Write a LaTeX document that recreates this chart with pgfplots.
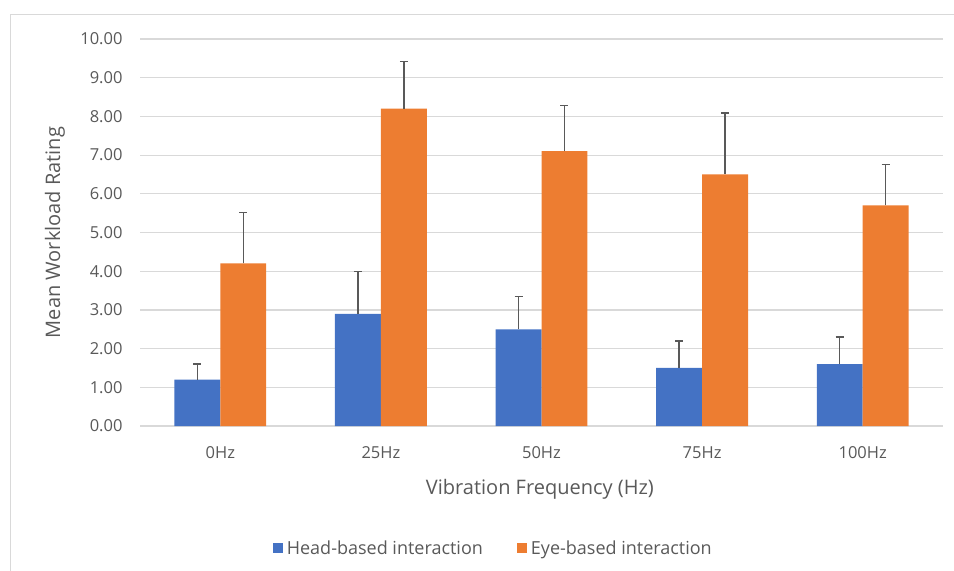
\documentclass[border=0pt]{standalone}
\usepackage{pgfplots}
\pgfplotsset{compat=1.18}
\usepackage{fontspec}
\setmainfont{Open Sans}
\definecolor{headblue}{HTML}{4472C4}
\definecolor{eyeorange}{HTML}{ED7D31}
\definecolor{gridgray}{HTML}{D9D9D9}
\definecolor{txtgray}{HTML}{595959}
\definecolor{errgray}{HTML}{595959}
\begin{document}
\begin{tikzpicture}
\path[use as bounding box] (0,0) rectangle (954bp,-571bp);
\draw[gridgray, line width=1bp] (10bp,-571bp) -- (10bp,-14bp) -- (954bp,-14bp);
\begin{axis}[
  at={(140bp,-426bp)}, anchor=south west,
  scale only axis, width=803bp, height=387bp,
  xmin=-0.5, xmax=4.5, ymin=0, ymax=10,
  ybar=0pt, bar width=0.286,
  xtick={0,1,2,3,4},
  xticklabels={0Hz,25Hz,50Hz,75Hz,100Hz},
  ytick={0,1,...,10},
  axis line style={draw=none},
  major tick length=0pt,
  ymajorgrids, grid style={gridgray, line width=1.2bp},
  /pgf/number format/.cd, fixed, fixed zerofill, precision=2, assume math mode=true,
  /pgfplots/.cd,
  yticklabel style={font=\fontsize{16.5bp}{19bp}\selectfont, text=txtgray, xshift=-14bp},
  xticklabel style={font=\fontsize{16.5bp}{19bp}\selectfont, text=txtgray, yshift=-17bp},
  xlabel={Vibration Frequency (Hz)},
  ylabel={Mean Workload Rating},
  xlabel style={font=\fontsize{20bp}{23bp}\selectfont, text=txtgray, at={(axis description cs:0.498,-0.163)}, anchor=center},
  ylabel style={font=\fontsize{20bp}{23bp}\selectfont, text=txtgray, at={(axis description cs:-0.106,0.5)}, anchor=center},
  legend style={at={(axis description cs:0.440,-0.315)}, anchor=center, draw=none, fill=none,
    font=\fontsize{18bp}{21bp}\selectfont, text=txtgray, /tikz/every even column/.append style={column sep=32bp}},
  legend columns=2,
  legend image code/.code={\fill[#1] (0bp,-5bp) rectangle (10bp,5bp); \path (12bp,0bp);},
  error bars/error bar style={errgray, line width=1.3bp},
  error bars/error mark=|,
  error bars/error mark options={errgray, line width=1.3bp, mark size=4bp},
]
\addplot[fill=headblue, draw=none,
  error bars/.cd, y dir=plus, y explicit]
  coordinates {(0,1.2) +- (0,0.40) (1,2.9) +- (0,1.10) (2,2.5) +- (0,0.85) (3,1.5) +- (0,0.70) (4,1.6) +- (0,0.70)};
\addplot[fill=eyeorange, draw=none,
  error bars/.cd, y dir=plus, y explicit]
  coordinates {(0,4.2) +- (0,1.31) (1,8.2) +- (0,1.22) (2,7.1) +- (0,1.19) (3,6.5) +- (0,1.59) (4,5.7) +- (0,1.05)};
\legend{Head-based interaction, Eye-based interaction}
\end{axis}
\end{tikzpicture}
\end{document}
